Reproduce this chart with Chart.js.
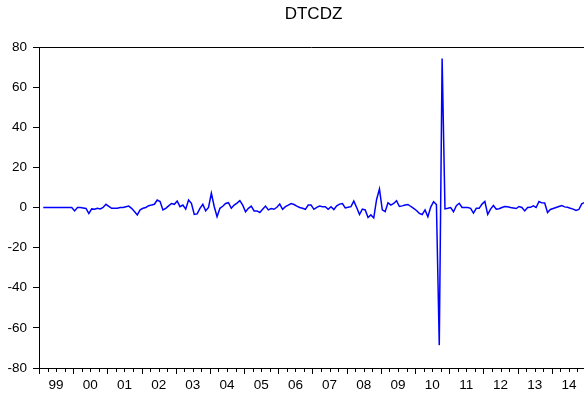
<!DOCTYPE html>
<html>
<head>
<meta charset="utf-8">
<script src="https://cdn.jsdelivr.net/npm/chart.js@4/dist/chart.umd.min.js"></script>
<style>
  html, body { margin: 0; padding: 0; background: #fff; }
  #wrap { width: 584px; height: 399px; }
</style>
</head>
<body>
<div id="wrap"><canvas id="c" width="584" height="399"></canvas></div>
<script>
// ---- data (monthly, Feb 1999 .. Dec 2014) ----
const seriesName = 'DTCDZ';
const firstYear = 1999;
const firstMonth = 2; // February
const yearLabels = ['99','00','01','02','03','04','05','06','07','08','09','10','11','12','13','14'];
const yTicks = [-80, -60, -40, -20, 0, 20, 40, 60, 80];

const v1999 = [0,0,0,0,0,0,0,0,0,0,0];
const v2000 = [-1.7,0,0,-0.2,-0.5,-3.0,-0.7,-0.9,-0.4,-0.7,0,1.6];
const v2001 = [0.6,-0.4,-0.4,-0.4,0,0,0.4,0.7,-0.4,-2.0,-3.7,-1.2];
const v2002 = [-0.4,0,0.9,1.2,1.6,3.7,3.0,-1.2,-0.4,0.8,2.0,1.6];
const v2003 = [3.2,0.4,1.2,-0.8,3.7,2.1,-3.4,-3.2,-0.4,1.6,-1.7,0];
const v2004 = [7.1,0.5,-4.6,-0.4,0.6,2.0,2.4,-0.4,1.2,2.2,3.4,1.2];
const v2005 = [-2.1,-0.4,0.7,-1.7,-1.7,-2.5,-0.9,0.7,-1.2,-0.5,-0.9,0.1];
const v2006 = [1.7,-0.9,0.4,1.2,2.0,1.5,0.7,0,-0.4,-0.9,1.2,1.2];
const v2007 = [-0.9,0.1,0.7,0.4,0.4,-0.9,0.4,-1.0,0.8,1.7,2.0,-0.2];
const v2008 = [0.1,0.4,3.2,0,-3.5,-0.8,-1.2,-5.0,-3.7,-5.2,4.0,9.2];
const v2009 = [-1.2,-2.1,2.4,1.2,2.0,3.4,0.5,0.8,1.2,1.5,0.5,-0.4];
const v2010 = [-1.5,-2.9,-3.5,-1.2,-4.6,0.2,2.9,1.5,-68.6,74.3,-0.7,-0.4];
const v2011 = [0,-2.1,0.9,2.1,0,0,0,-0.4,-2.8,-0.4,-0.4,1.7];
const v2012 = [3.0,-3.4,-0.8,1.0,-0.8,-0.6,0,0.5,0.4,0,-0.2,-0.5];
const v2013 = [0.5,0,-1.7,0,0.1,0.8,0,3.0,2.3,2.2,-2.5,-1.0];
const v2014 = [-0.5,0,0.5,1.0,0.3,0.1,-0.4,-0.8,-1.5,-1.0,1.8,2.5];

const values = [].concat(v1999,v2000,v2001,v2002,v2003,v2004,v2005,v2006,
                         v2007,v2008,v2009,v2010,v2011,v2012,v2013,v2014);

// x = months since Jan 1999, plotted at mid-month
const points = values.map((v, i) => ({ x: (firstMonth - 1) + i + 0.5, y: v }));

const FONT = '"Liberation Sans", Arial, Helvetica, sans-serif';
const AXIS_COLOR = '#000000';

const extras = {
  id: 'extras',
  afterDraw(chart) {
    const ctx = chart.ctx;
    const a = chart.chartArea;
    const xs = chart.scales.x;
    ctx.save();
    // top frame line
    ctx.strokeStyle = AXIS_COLOR;
    ctx.lineWidth = 1;
    ctx.beginPath();
    ctx.moveTo(a.left, a.top + 0.5);
    ctx.lineTo(a.right, a.top + 0.5);
    ctx.stroke();
    // x tick marks: quarterly minor, yearly major
    ctx.beginPath();
    for (let m = 0; m <= xs.max; m += 3) {
      const px = Math.round(xs.getPixelForValue(m)) + 0.5;
      const len = (m % 12 === 0) ? 6 : 4;
      ctx.moveTo(px, a.bottom);
      ctx.lineTo(px, a.bottom + len);
    }
    ctx.stroke();
    // title
    ctx.fillStyle = '#000';
    ctx.font = '17px ' + FONT;
    ctx.textAlign = 'center';
    ctx.textBaseline = 'middle';
    ctx.fillText(seriesName, (a.left + a.right) / 2 + 2, 14);
    ctx.restore();
  }
};

new Chart(document.getElementById('c'), {
  type: 'line',
  data: {
    datasets: [{
      label: seriesName,
      data: points,
      borderColor: '#0000ff',
      borderWidth: 1.5,
      pointRadius: 0,
      tension: 0,
      fill: false
    }]
  },
  options: {
    responsive: false,
    animation: false,
    devicePixelRatio: 1,
    layout: { padding: { top: 47, left: 0, right: 0, bottom: 0 } },
    plugins: { legend: { display: false }, title: { display: false }, tooltip: { enabled: false } },
    scales: {
      x: {
        type: 'linear',
        min: 0,
        max: 191.3,
        afterBuildTicks(scale) {
          const t = [];
          for (let m = 0; m <= 189; m += 3) t.push({ value: m });
          scale.ticks = t;
        },
        afterFit(scale) { scale.height = 31; },
        ticks: {
          autoSkip: false,
          maxRotation: 0,
          padding: 3,
          color: '#000',
          font: { family: FONT, size: 13.5 },
          callback(value) {
            if (value % 12 === 6) return yearLabels[(value - 6) / 12];
            return '';
          }
        },
        grid: { display: true, drawOnChartArea: false, drawTicks: true, tickLength: 6, tickColor: 'rgba(0,0,0,0)' },
        border: { display: true, color: AXIS_COLOR, width: 1 }
      },
      y: {
        min: -80,
        max: 80,
        afterBuildTicks(scale) { scale.ticks = yTicks.map(v => ({ value: v })); },
        afterFit(scale) { scale.width = 39; },
        ticks: {
          padding: 6,
          color: '#000',
          font: { family: FONT, size: 13.5 }
        },
        grid: { display: true, drawOnChartArea: false, drawTicks: true, tickLength: 6, tickColor: AXIS_COLOR },
        border: { display: true, color: AXIS_COLOR, width: 1 }
      }
    }
  },
  plugins: [extras]
});
</script>
</body>
</html>
